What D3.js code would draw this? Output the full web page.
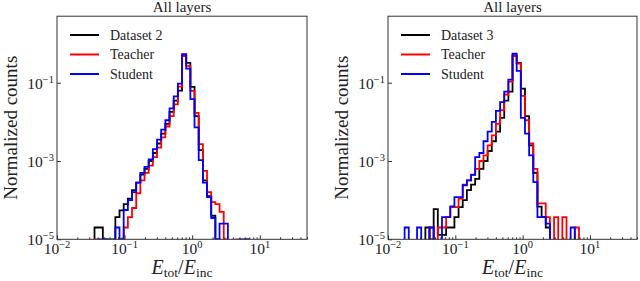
<!DOCTYPE html>
<html>
<head>
<meta charset="utf-8">
<script src="https://cdn.jsdelivr.net/npm/d3@7"></script>
<style>
body { margin: 0; background: #fff; }
svg { display: block; }
svg text { font-family: "Times New Roman", "Liberation Serif", "DejaVu Serif", "Noto Serif", serif; fill: #222; }
</style>
</head>
<body>
<div id="chart"></div>
<script>
var w = 640;
var h = 281;

// 60 log-spaced bins from 1e-2 to 10^1.7
var binLo = -2, binHi = 1.7, nBins = 60;

var xTickVals = [1e-2, 1e-1, 1e0, 1e1];
var xTickExp = ["\u22122", "\u22121", "0", "1"];
var yTickVals = [1e-5, 1e-3, 1e-1];
var yTickExp = ["\u22125", "\u22123", "\u22121"];

var seriesNames = ["Teacher", "Student"];
var seriesColors = ["#000000", "#ff0000", "#0000ff"];

// left panel: Dataset 2 (normalized counts per bin, bins 0..59)
var ds2Data = [
  0,0,0,0,0,0,0,0,0,2e-5,
  2e-5,1e-5,1e-5,1e-5,3.7e-5,5.5e-5,7.9e-5,1.1e-4,1.8e-4,2.8e-4,
  4.5e-4,6.3e-4,1e-3,1.6e-3,2.8e-3,5e-3,8.9e-3,1.8e-2,3.5e-2,6.3e-2,
  0.5,0.32,7.8e-2,1.4e-2,1.9e-3,3.2e-4,1.26e-4,4e-5,1e-5,0,
  0,0,0,0,0,0,0,0,0,0,
  0,0,0,0,0,0,0,0,0,0];
var ds2Teacher = [
  0,0,0,0,0,0,0,0,0,1e-5,
  0,0,0,0,0,1e-5,2e-5,3.7e-5,6.3e-5,1.5e-4,
  3.2e-4,5e-4,7.6e-4,1.26e-3,2.2e-3,4e-3,7.6e-3,1.4e-2,2.8e-2,7.9e-2,
  0.48,0.27,6.2e-2,1.7e-2,2.7e-3,5.6e-4,1.6e-4,8.9e-5,7.9e-5,5e-5,
  1e-5,0,0,1e-5,0,1e-5,0,0,0,0,
  0,0,0,0,0,0,0,0,0,0];
var ds2Student = [
  0,0,0,0,0,0,0,0,0,0,
  1e-5,1e-5,0,0,2e-5,1e-5,5.6e-5,1e-4,1.6e-4,2.8e-4,
  5e-4,7.1e-4,1.1e-3,2e-3,3.5e-3,6.3e-3,1.1e-2,2.2e-2,4.5e-2,9.5e-2,
  0.54,0.23,3.8e-2,7.2e-3,1.05e-3,2.8e-4,1.2e-4,3.5e-5,1e-5,2.5e-5,
  2.5e-5,0,0,0,1e-5,1e-5,0,0,0,0,
  0,0,0,0,0,0,0,0,0,0];

// right panel: Dataset 3
var ds3Data = [
  0,0,0,0,0,0,0,0,0,2e-5,
  1e-5,5.9e-5,1.3e-5,1.3e-5,2e-5,2e-5,3.7e-5,6.6e-5,1e-4,1.8e-4,
  2.5e-4,3.5e-4,6.3e-4,1e-3,1.8e-3,3.2e-3,5.6e-3,1.26e-2,3.5e-2,5.9e-2,
  0.5,0.32,7.1e-2,1.4e-2,2.5e-3,5e-4,6.8e-5,3.7e-5,2e-5,0,
  0,0,0,0,0,0,0,0,0,0,
  0,0,0,0,0,0,0,0,0,0];
var ds3Teacher = [
  0,0,0,0,0,0,0,0,0,0,
  2e-5,0,2e-5,2e-5,3.7e-5,6.6e-5,6.6e-5,1.1e-4,2.5e-4,3.2e-4,
  4.5e-4,6.3e-4,1e-3,1.4e-3,2.5e-3,4.5e-3,8.9e-3,2e-2,5e-2,0.107,
  0.48,0.31,4.6e-2,1.1e-2,2.8e-3,6.3e-4,8.3e-5,8.3e-5,3.7e-5,0,
  3.7e-5,0,3.7e-5,0,0,2e-5,0,0,0,0,
  0,0,0,0,0,0,0,0,0,0];
var ds3Student = [
  0,0,0,0,2e-5,0,0,2e-5,0,0,
  2e-5,0,0,3.7e-5,3.7e-5,6.9e-5,1.2e-4,1.2e-4,2.4e-4,3.2e-4,
  4.4e-4,1.26e-3,1.6e-3,3.2e-3,5.6e-3,1e-2,1.9e-2,3.2e-2,5.9e-2,0.12,
  0.55,0.2,1.26e-2,5e-3,1.4e-3,2.9e-4,3.7e-5,3.7e-5,2.5e-5,0,
  0,0,0,0,2e-5,0,0,0,0,0,
  0,0,0,0,0,0,0,0,0,0];

var edges = d3.range(nBins + 1).map(function(i) {
  return Math.pow(10, binLo + i * (binHi - binLo) / nBins);
});

var svg = d3.select("#chart")
  .append("svg")
  .attr("width", w)
  .attr("height", h);

function drawPanel(id, left, right, dataName, data) {
  var top = 16.2, bottom = 239.3;

  var x = d3.scaleLog().domain([1e-2, 50]).range([left, right]);
  var y = d3.scaleLog().domain([1e-5, 5]).range([bottom, top]);

  var g = svg.append("g");

  svg.append("clipPath").attr("id", "clip" + id)
    .append("rect")
    .attr("x", left).attr("y", top)
    .attr("width", right - left).attr("height", bottom - top);

  // step histograms
  var line = d3.line()
    .x(function(d) { return x(d[0]); })
    .y(function(d) { return d[1] > 0 ? y(d[1]) : bottom + 40; })
    .curve(d3.curveStepAfter);

  data.forEach(function(vals, s) {
    var pts = [[edges[0], 0]];
    vals.forEach(function(v, i) { pts.push([edges[i], v]); });
    pts.push([edges[nBins], vals[nBins - 1]]);
    pts.push([edges[nBins], 0]);
    g.append("path")
      .attr("clip-path", "url(#clip" + id + ")")
      .attr("d", line(pts))
      .attr("fill", "none")
      .attr("stroke", seriesColors[s])
      .attr("stroke-width", 1.8);
  });

  // frame
  g.append("rect")
    .attr("x", left).attr("y", top)
    .attr("width", right - left).attr("height", bottom - top)
    .attr("fill", "none")
    .attr("stroke", "#333")
    .attr("stroke-width", 1);

  // x ticks (inward)
  var minors = [];
  for (var e = -2; e <= 1; e++) {
    for (var m = 2; m <= 9; m++) {
      var v = m * Math.pow(10, e);
      if (v <= 50) minors.push(v);
    }
  }
  g.append("g")
    .attr("transform", "translate(0," + bottom + ")")
    .call(d3.axisBottom(x).tickValues(minors).tickFormat("").tickSizeInner(-2).tickSizeOuter(0))
    .call(function(a) { a.select(".domain").remove(); a.selectAll("line").attr("stroke", "#333"); });
  g.append("g")
    .attr("transform", "translate(0," + bottom + ")")
    .call(d3.axisBottom(x).tickValues(xTickVals).tickFormat("").tickSizeInner(-4).tickSizeOuter(0))
    .call(function(a) { a.select(".domain").remove(); a.selectAll("line").attr("stroke", "#333"); });

  xTickVals.forEach(function(v, i) {
    var t = g.append("text")
      .attr("x", x(v)).attr("y", 254)
      .attr("text-anchor", "middle");
    t.append("tspan").attr("font-size", 15.5).text("10");
    t.append("tspan").attr("font-size", 10.5).attr("dy", -6).text(xTickExp[i]);
  });

  // y ticks
  g.append("g")
    .attr("transform", "translate(" + left + ",0)")
    .call(d3.axisLeft(y).tickValues(yTickVals).tickFormat("").tickSizeInner(-4).tickSizeOuter(0))
    .call(function(a) { a.select(".domain").remove(); a.selectAll("line").attr("stroke", "#333"); });

  yTickVals.forEach(function(v, i) {
    var t = g.append("text")
      .attr("x", left - 3).attr("y", y(v) + 6)
      .attr("text-anchor", "end");
    t.append("tspan").attr("font-size", 15.5).text("10");
    t.append("tspan").attr("font-size", 10.5).attr("dy", -6).text(yTickExp[i]);
  });

  // title
  g.append("text")
    .attr("x", (left + right) / 2).attr("y", 12)
    .attr("text-anchor", "middle")
    .attr("font-size", 15)
    .text("All layers");

  // y label
  g.append("text")
    .attr("transform", "translate(" + (left - 40) + "," + ((top + bottom) / 2) + ") rotate(-90)")
    .attr("text-anchor", "middle")
    .attr("font-size", 19)
    .text("Normalized counts");

  // x label
  var xl = g.append("text")
    .attr("x", (left + right) / 2).attr("y", 274)
    .attr("text-anchor", "middle");
  xl.append("tspan").attr("font-size", 20).attr("font-style", "italic").text("E");
  xl.append("tspan").attr("font-size", 13.5).attr("dy", 3).text("tot");
  xl.append("tspan").attr("font-size", 20).attr("dy", -3).text("/");
  xl.append("tspan").attr("font-size", 20).attr("font-style", "italic").text("E");
  xl.append("tspan").attr("font-size", 13.5).attr("dy", 3).text("inc");

  // legend
  var labels = [dataName].concat(seriesNames);
  labels.forEach(function(lab, i) {
    var ly = 35 + i * 19.5;
    g.append("line")
      .attr("x1", left + 13).attr("x2", left + 42)
      .attr("y1", ly).attr("y2", ly)
      .attr("stroke", seriesColors[i])
      .attr("stroke-width", 2);
    g.append("text")
      .attr("x", left + 53).attr("y", ly + 4.5)
      .attr("font-size", 14)
      .text(lab);
  });
}

drawPanel("L", 57, 307, "Dataset 2", [ds2Data, ds2Teacher, ds2Student]);
drawPanel("R", 388, 637, "Dataset 3", [ds3Data, ds3Teacher, ds3Student]);
</script>
</body>
</html>
